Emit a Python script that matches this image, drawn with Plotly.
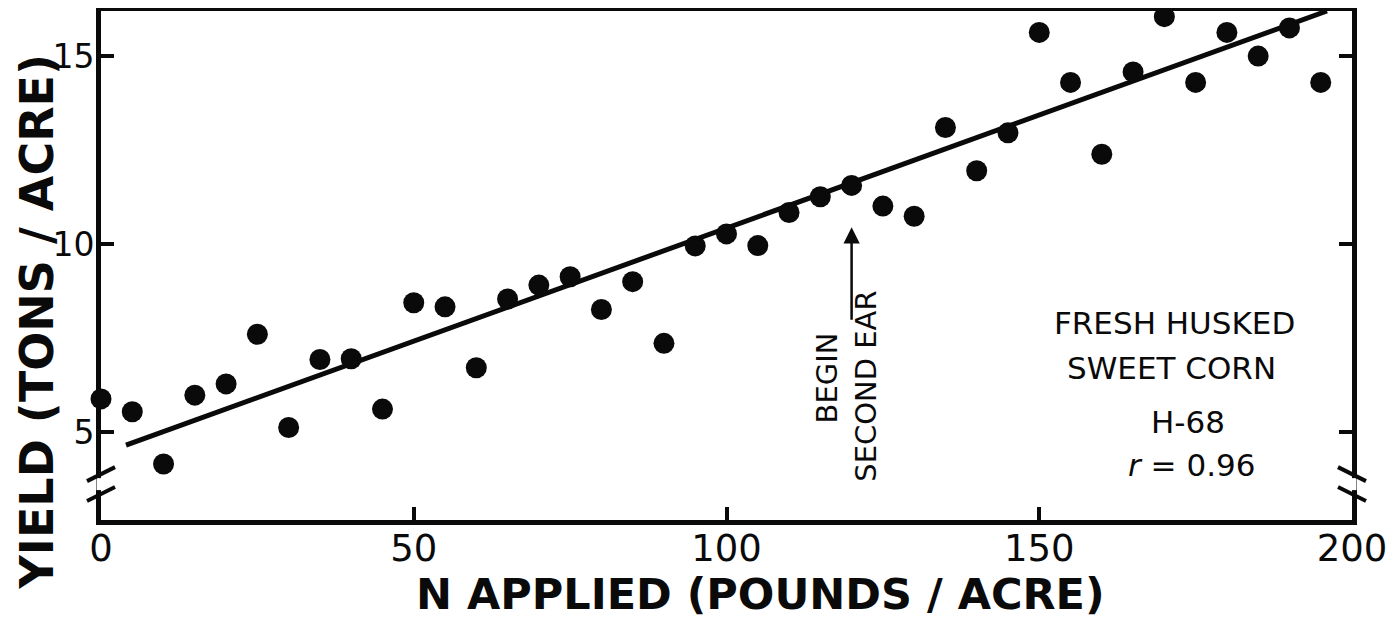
import plotly.graph_objects as go

# ---- data ----
n_applied = [0, 5, 10, 15, 20, 25, 30, 35, 40, 45,
             50, 55, 60, 65, 70, 75, 80, 85, 90, 95,
             100, 105, 110, 115, 120, 125, 130, 135, 140, 145,
             150, 155, 160, 165, 170, 175, 180, 185, 190, 195]
yield_tons = [5.88, 5.54, 4.15, 5.98, 6.28, 7.60, 5.12, 6.93, 6.95, 5.61,
              8.44, 8.33, 6.71, 8.54, 8.91, 9.13, 8.26, 9.00, 7.36, 9.95,
              10.27, 9.96, 10.84, 11.26, 11.56, 11.01, 10.74, 13.10, 11.95, 12.96,
              15.63, 14.30, 12.39, 14.58, 16.05, 14.30, 15.63, 15.00, 15.75, 14.30]
fit_x = [4, 196]
fit_y = [4.65, 16.2]
x_ticks = [0, 50, 100, 150, 200]
y_ticks = [5, 10, 15]
second_ear_n = 120
arrow_y = [7.95, 10.45]
break_y = [3.88, 3.35]

FONT = "DejaVu Sans"
BLACK = "#0a0a0a"

fig = go.Figure()
fig.add_trace(go.Scatter(x=fit_x, y=fit_y, mode="lines",
                         line=dict(color=BLACK, width=5), hoverinfo="skip"))
fig.add_trace(go.Scatter(x=n_applied, y=yield_tons, mode="markers",
                         marker=dict(color=BLACK, size=21, line=dict(width=0)),
                         cliponaxis=False))

# the page body has an 8px margin, so the figure is sized/offset to compensate
fig.update_layout(
    width=1391, height=613,
    margin=dict(l=93, r=47, t=3, b=101),
    plot_bgcolor="white", paper_bgcolor="white",
    showlegend=False,
    font=dict(family=FONT, color=BLACK),
)
fig.update_xaxes(range=[0, 200], tickvals=x_ticks, ticks="inside", ticklen=13,
                 tickwidth=4, tickcolor=BLACK, showline=True, linewidth=5,
                 linecolor=BLACK, mirror=True, showgrid=False, zeroline=False,
                 automargin=False, ticklabelstandoff=-8,
                 tickfont=dict(size=37, family=FONT, color=BLACK))
fig.update_yaxes(range=[2.66, 16.2], tickvals=y_ticks, ticks="inside", ticklen=13,
                 tickwidth=4, tickcolor=BLACK, showline=True, linewidth=5,
                 linecolor=BLACK, mirror="ticks", showgrid=False, zeroline=False,
                 automargin=False, ticklabelstandoff=-5,
                 tickfont=dict(size=33, family=FONT, color=BLACK))

# axis titles
fig.add_annotation(text="<b>N APPLIED (POUNDS / ACRE)</b>", xref="paper", yref="paper",
                   x=0.527, y=-101 / 509, showarrow=False, xanchor="center", yanchor="bottom",
                   font=dict(size=43, family=FONT, color=BLACK))
fig.add_annotation(text="<b>YIELD (TONS / ACRE)</b>", xref="paper", yref="paper",
                   x=-93 / 1251, y=0.39, showarrow=False, textangle=-90,
                   xanchor="left", yanchor="middle",
                   font=dict(size=46, family=FONT, color=BLACK))

# legend-like text block
for txt, xp, yp in [("FRESH HUSKED", 0.8585, 0.387), ("SWEET CORN", 0.856, 0.2986),
                    ("H-68", 0.869, 0.1925), ("<i>r</i> = 0.96", 0.872, 0.108)]:
    fig.add_annotation(text=txt, xref="paper", yref="paper", x=xp, y=yp,
                       showarrow=False, xanchor="center", yanchor="middle",
                       font=dict(size=31, family=FONT, color=BLACK))

# begin second ear arrow and labels
fig.add_annotation(x=second_ear_n, y=arrow_y[1], ax=second_ear_n, ay=arrow_y[0],
                   xref="x", yref="y", axref="x", ayref="y", text="",
                   showarrow=True, arrowhead=2, arrowsize=1.3, arrowwidth=2.5,
                   arrowcolor=BLACK)
fig.add_annotation(text="BEGIN", x=second_ear_n, y=6.44, xref="x", yref="y",
                   xshift=-25, showarrow=False, textangle=-90,
                   font=dict(size=29, family=FONT, color=BLACK))
fig.add_annotation(text="SECOND EAR", x=second_ear_n, y=6.22, xref="x", yref="y",
                   xshift=15, showarrow=False, textangle=-90,
                   font=dict(size=29, family=FONT, color=BLACK))

# axis break marks
for side, slope in [(0, 1), (1, -1)]:
    fig.add_shape(type="line", xref="paper", yref="y", xsizemode="pixel",
                  ysizemode="pixel", xanchor=side, yanchor=(break_y[0] + break_y[1]) / 2,
                  x0=0, x1=0, y0=-6, y1=6, line=dict(color="white", width=9))
    for by in break_y:
        fig.add_shape(type="line", xref="paper", yref="y", xsizemode="pixel",
                      ysizemode="pixel", xanchor=side, yanchor=by,
                      x0=-14, x1=14, y0=-7 * slope, y1=7 * slope,
                      line=dict(color=BLACK, width=4))

fig.write_html("out.html")
